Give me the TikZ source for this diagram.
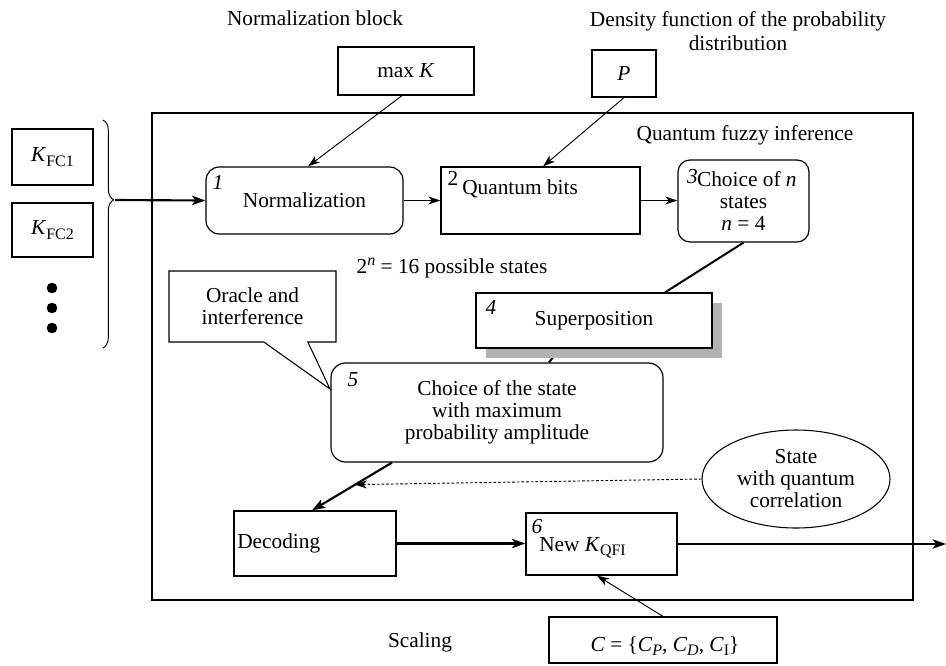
\documentclass[tikz,border=0pt]{standalone}
\usepackage{fontspec}
\setmainfont{Liberation Serif}
\usetikzlibrary{arrows.meta,shapes.geometric,shapes.callouts,shadows,decorations.pathreplacing,calc,backgrounds}

% lowered / raised small text for indices
\newcommand\lsub[1]{\raisebox{-0.45ex}{\fontsize{12}{12}\selectfont #1}}
\newcommand\lsup[1]{\raisebox{0.75ex}{\fontsize{12}{12}\selectfont #1}}

\begin{document}
\begin{tikzpicture}[x=0.75pt,y=-0.75pt,
  every node/.style={font=\fontsize{16}{16.5}\selectfont, inner sep=0pt},
  wh/.style 2 args={minimum width=#1*0.75pt, minimum height=#2*0.75pt},
  box/.style={draw, line width=0.9pt, fill=white, align=center},
  rbox/.style={box, rounded corners=10pt},
  thinarrow/.style={-{Stealth[length=9pt,width=6pt,inset=2.5pt]}, line width=0.7pt},
  thickarrow/.style={-{Stealth[length=10pt,width=7pt,inset=2.5pt]}, line width=1.6pt},
  link/.style={line width=1.5pt},
  dotmark/.style={circle, fill, minimum size=8pt},
  tag/.style={font=\fontsize{16}{16}\selectfont\itshape},
]
\useasboundingbox (0,0) rectangle (946,665);

% enclosing frame of the inference block
\node[draw, line width=0.8pt, wh={761}{487}] (frame) at (532.5,356.5) {};

% titles and free labels
\node (ttlnorm) at (315,18) {Normalization block};
\node[align=center] (ttldens) at (738,31) {Density function of the probability\\[2pt]distribution};
\node (ttlqfi) at (745,135) {Quantum fuzzy inference};
\node (ttlstates) at (452,268) {2\lsup{\textit{n}} = 16 possible states};
\node (ttlscale) at (420,642) {Scaling};

% inputs on the left
\node[box, wh={81}{56}] (kfc1) at (52.5,157) {\textit{K}\lsub{FC1}};
\node[box, wh={81}{54}] (kfc2) at (52.5,230) {\textit{K}\lsub{FC2}};
\node[dotmark] (d1) at (52,288) {};
\node[dotmark] (d2) at (52,308) {};
\node[dotmark] (d3) at (52,328) {};
\coordinate (bracetop) at (103,120);
\coordinate (bracebot) at (103,348);
\coordinate (bracetip) at (115,200);
\draw[decorate, decoration={brace, amplitude=8pt, aspect=0.35}, line width=0.7pt]
  (bracetop) -- (bracebot);

% external parameter boxes
\node[box, wh={136}{48}] (maxk) at (406,71) {max \textit{K}};
\node[box, wh={64}{47}] (pbox) at (624,73.5) {\textit{P}};
\node[box, wh={228}{46}] (cbox) at (663,640) {};
\node (ctext) at (665,646) {\textit{C} = \{\textit{C}\lsub{\textit{P}}, \textit{C}\lsub{\textit{D}}, \textit{C}\lsub{I}\}};

% processing steps
\node[rbox, wh={197}{67}] (norm) at (304.5,200.5) {Normalization};
\node[tag] (n1) at (218,182) {1};

\node[box, wh={199}{67}] (qbits) at (540.5,200.5) {};
\node[anchor=west] (qbtext) at (462,189) {Quantum bits};
\node (n2) at (453,178) {2};

\node[rbox, rounded corners=9pt, wh={131}{82}] (choice) at (743.5,201) {\hspace*{5pt}Choice of \textit{n}\\states\\\textit{n} = 4};
\node[tag, anchor=east] (n3) at (698,177) {3};

\node[box, wh={236}{55}, drop shadow={shadow xshift=7.5pt, shadow yshift=-7.5pt, fill=black!30, opacity=1}] (superp) at (594,320.5) {Superposition};
\node[tag] (n4) at (491,307) {4};

\node[rbox, rounded corners=11pt, wh={332}{99}] (maxstate) at (497,412.5) {Choice of the state\\with maximum\\probability amplitude};
\node[tag] (n5) at (353,380) {5};

\node[draw, line width=0.8pt, fill=white, rectangle callout, align=center, wh={167}{71},
  callout absolute pointer={(330,389)}, callout pointer width=33pt] (oracle) at (252.5,306.5)
  {Oracle and\\interference};

\node[draw, ellipse, line width=0.8pt, align=center, wh={188}{98}] (corr) at (796,479)
  {State\\with quantum\\correlation};

\node[box, wh={162}{65}] (decode) at (315,543.5) {};
\node[anchor=west] (dectext) at (237,543) {Decoding};

\node[box, wh={151}{62}] (newk) at (601.5,544) {};
\node[anchor=west] (newtext) at (539,548) {New \textit{K}\lsub{QFI}};
\node[tag] (n6) at (537,527) {6};

\coordinate (outp) at (946,544);

% connectors
\draw[thickarrow] (bracetip) -- (norm.west);
\draw[thinarrow] ($(maxk.south)+(-4,0)$) -- ($(norm.north)+(3.5,0)$);
\draw[thinarrow] (pbox.south) -- ($(qbits.north)+(2.5,0)$);
\draw[thinarrow] (norm.east) -- (qbits.west);
\draw[thinarrow] (qbits.east) -- (choice.west |- qbits.east);
\draw[link] (choice.south) -- ($(superp.north)+(71,0)$);
\begin{pgfonlayer}{background}
  \draw[link] ($(superp.south)+(-34,0)$) -- ($(maxstate.north)+(52,0)$);
\end{pgfonlayer}
\draw[thickarrow] ($(maxstate.south)+(-105,0)$) -- coordinate[pos=0.44] (corrhit) ($(decode.north)+(-3,0)$);
\draw[thinarrow, dash pattern=on 2pt off 1.5pt] (corr.west) -- ($(corrhit)+(-2,1)$);
\draw[thickarrow] (decode.east) -- (newk.west |- decode.east);
\draw[thickarrow] (newk.east) -- (outp);
\draw[thinarrow] (cbox.north) -- ($(newk.south)+(-4.5,0)$);

\end{tikzpicture}
\end{document}
